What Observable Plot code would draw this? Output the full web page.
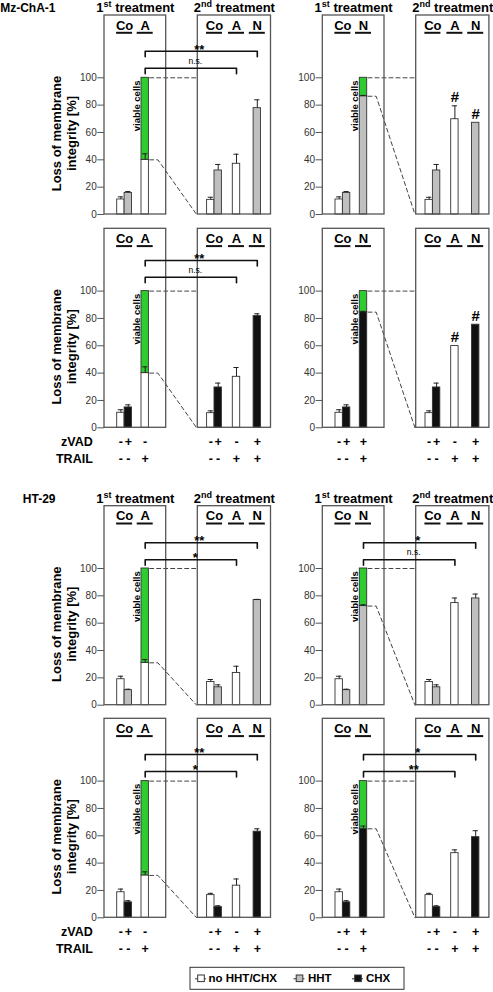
<!DOCTYPE html>
<html>
<head>
<meta charset="utf-8">
<script src="https://cdn.jsdelivr.net/npm/d3@7"></script>
<script src="https://cdn.jsdelivr.net/npm/@observablehq/plot@0.6"></script>
<style>
  body { margin: 0; background: #fff; }
  #chart { position: relative; width: 493px; height: 992px; background: #fff; }
  #chart svg { position: absolute; left: 0; background: transparent; }
</style>
</head>
<body>
<div id="chart"></div>
<script>
// ================= DATA =================
const yTicks = [0, 20, 40, 60, 80, 100];
const cellLines = ["Mz-ChA-1", "", "HT-29", ""];
const rowAgent = ["HHT", "CHX", "HHT", "CHX"];
const treatmentTitles = ["1st treatment", "2nd treatment"];
const firstCatsLeft = ["Co", "A"];
const firstCatsRight = ["Co", "N"];
const secondCats = ["Co", "A", "N"];
const legendLabels = ["no HHT/CHX", "HHT", "CHX"];
const yTitle = "Loss of membrane\nintegrity [%]";
const viableLabel = "viable cells";
const zvadCo = ["-", "+"], trailCo = ["-", "-"];
const zvadA = "-", trailA = "+";
const zvadN = "+", trailN = "+";
const factorLabels = ["zVAD", "TRAIL"];

// Loss of membrane integrity [%]; 1st box: [Co no agent, Co agent, A|N], 2nd box: [Co no agent, Co agent, A, N]
// Mz-ChA-1, HHT
const mzHhtFirstA = [11, 15.8, 40],   mzHhtFirstAErr = [1.9, 1, 4.4];
const mzHhtSecondA = [10.7, 32.2, 37.1, 77.8], mzHhtSecondAErr = [1.9, 4.4, 7, 6.1];
const mzHhtFirstN = [11, 15.8, 86.5], mzHhtFirstNErr = [1.9, 1, 0.6];
const mzHhtSecondN = [10.7, 32.2, 69.7, 67.1], mzHhtSecondNErr = [1.9, 4.4, 9.8, 0];
// Mz-ChA-1, CHX
const mzChxFirstA = [11, 14.9, 40],   mzChxFirstAErr = [2.2, 1.9, 4.6];
const mzChxSecondA = [10.7, 29.5, 37.3, 81.7], mzChxSecondAErr = [1.7, 3.2, 6.8, 1.7];
const mzChxFirstN = [11, 14.9, 84.6], mzChxFirstNErr = [2.2, 1.9, 0.6];
const mzChxSecondN = [10.7, 29.5, 59.8, 75.4], mzChxSecondNErr = [1.7, 3.2, 0, 0];
// HT-29, HHT
const htHhtFirstA = [19, 11, 31],     htHhtFirstAErr = [2.2, 0.7, 2.4];
const htHhtSecondA = [17, 13.1, 23.6, 76.9], htHhtSecondAErr = [1.8, 1.8, 4.9, 0.5];
const htHhtFirstN = [19, 11, 72.5],   htHhtFirstNErr = [2.2, 0.7, 1];
const htHhtSecondN = [17, 13.1, 74.7, 78.1], htHhtSecondNErr = [1.8, 1.8, 3.7, 3.2];
// HT-29, CHX
const htChxFirstA = [18.7, 11.3, 31], htChxFirstAErr = [2.3, 1.2, 2.6];
const htChxSecondA = [16.6, 7.8, 23.5, 63], htChxSecondAErr = [1.3, 1, 4.9, 2.1];
const htChxFirstN = [18.7, 11.3, 65.1], htChxFirstNErr = [2.3, 1.2, 2];
const htChxSecondN = [16.6, 7.8, 47.3, 59], htChxSecondNErr = [1.3, 1, 2.4, 4.7];

// significance
const sigAtoN = ["**", "**", "**", "**"];     // left: 1st A vs 2nd N
const sigAtoA = ["n.s.", "n.s.", "*", "*"];   // left: 1st A vs 2nd A
const sigNtoN = ["", "", "*", "*"];           // right: 1st N vs 2nd N
const sigNtoA = ["", "", "n.s.", "**"];       // right: 1st N vs 2nd A
const hashA = ["#", "#", "", ""];
const hashN = ["#", "#", "", ""];

const rows = [
  {firstA: mzHhtFirstA, firstAErr: mzHhtFirstAErr, secondA: mzHhtSecondA, secondAErr: mzHhtSecondAErr,
   firstN: mzHhtFirstN, firstNErr: mzHhtFirstNErr, secondN: mzHhtSecondN, secondNErr: mzHhtSecondNErr},
  {firstA: mzChxFirstA, firstAErr: mzChxFirstAErr, secondA: mzChxSecondA, secondAErr: mzChxSecondAErr,
   firstN: mzChxFirstN, firstNErr: mzChxFirstNErr, secondN: mzChxSecondN, secondNErr: mzChxSecondNErr},
  {firstA: htHhtFirstA, firstAErr: htHhtFirstAErr, secondA: htHhtSecondA, secondAErr: htHhtSecondAErr,
   firstN: htHhtFirstN, firstNErr: htHhtFirstNErr, secondN: htHhtSecondN, secondNErr: htHhtSecondNErr},
  {firstA: htChxFirstA, firstAErr: htChxFirstAErr, secondA: htChxSecondA, secondAErr: htChxSecondAErr,
   firstN: htChxFirstN, firstNErr: htChxFirstNErr, secondN: htChxSecondN, secondNErr: htChxSecondNErr}
];

// ================= LAYOUT / STYLE =================
const FONT = '"Liberation Sans", Arial, Helvetica, sans-serif';
const W = 493;
const PX = 1.367;                          // px per 1 %
const WHITE = "#ffffff", GREY = "#bfbfbf", BLACK = "#111111", GREEN = "#2ecc2e";
const rowTop = [0, 220, 470, 712];
const rowH = [220, 250, 242, 280];
const rowY0 = [214, 207.3, 234.7, 205.3];
const bracketUpperPx = [163.3, 167.3, 162.4, 163.3];
const bracketLowerPx = [146.3, 150.6, 145.4, 146.3];
const side = [{b1: 104, b2: 197.3}, {b1: 322.3, b2: 415.7}];
const B1W = 61.7, B2W = 73.2, BW = 7.4;
const slot1 = [12.7, 20.1, 37];
const slot2 = [9.3, 16.7, 35, 55.8];
const legendBox = [190, 404];
const legendIconX = [201, 299.5, 358];
const legendTextX = [208, 307.5, 365.5];

function buildRow(r) {
  const y0 = rowY0[r];
  const U = px => px / PX;
  const d = rows[r];
  const agentFill = rowAgent[r] === "HHT" ? GREY : BLACK;
  const bars = [], errs = [], frames = [], ticks = [], cats = [], unders = [], signs = [];
  const brackets = [], brStars = [], brNs = [], conns = [], viable = [], hashes = [], titles = [];

  side.forEach((s, si) => {
    const v1 = si === 0 ? d.firstA : d.firstN, e1 = si === 0 ? d.firstAErr : d.firstNErr;
    const v2 = si === 0 ? d.secondA : d.secondN, e2 = si === 0 ? d.secondAErr : d.secondNErr;
    const cats1 = si === 0 ? firstCatsLeft : firstCatsRight;
    frames.push({x1: s.b1, x2: s.b1 + B1W}, {x1: s.b2, x2: s.b2 + B2W});
    const xs1 = slot1.map(o => s.b1 + o), xs2 = slot2.map(o => s.b2 + o);
    const fill1 = [WHITE, agentFill, si === 0 ? WHITE : agentFill];
    const fill2 = [WHITE, agentFill, WHITE, agentFill];
    xs1.forEach((x, i) => {
      bars.push({x1: x, x2: x + BW, y1: 0, y2: v1[i], fill: fill1[i]});
      if (e1[i] > 0) errs.push({x: x + BW / 2, y1: v1[i], y2: v1[i] + e1[i]});
    });
    const tx = xs1[2], tv = v1[2];
    bars.push({x1: tx, x2: tx + BW, y1: tv, y2: 100, fill: GREEN});
    xs2.forEach((x, i) => {
      bars.push({x1: x, x2: x + BW, y1: 0, y2: v2[i], fill: fill2[i]});
      if (e2[i] > 0) errs.push({x: x + BW / 2, y1: v2[i], y2: v2[i] + e2[i]});
    });
    // y ticks
    yTicks.forEach(t => ticks.push({x1: s.b1 - 6.7, x2: s.b1, lx: s.b1 - 7.8, y: t}));
    // category labels
    const c1 = [s.b1 + slot1[1], xs1[2] + BW / 2];
    const c2 = [s.b2 + slot2[1], xs2[2] + BW / 2, xs2[3] + BW / 2];
    cats1.forEach((c, i) => cats.push({x: c1[i], t: c}));
    secondCats.forEach((c, i) => cats.push({x: c2[i], t: c}));
    // titles
    if (treatmentTitles && (r === 0 || r === 2)) {
      titles.push({x: s.b1 + B1W / 2, t: treatmentTitles[0]}, {x: s.b2 + B2W / 2, t: treatmentTitles[1]});
    }
    // zVAD / TRAIL signs
    if (r === 1 || r === 3) {
      const tz = si === 0 ? zvadA : zvadN, tt = si === 0 ? trailA : trailN;
      [0, 1].forEach(i => {
        signs.push({x: xs1[i] + BW / 2, y: U(-14), t: zvadCo[i]}, {x: xs1[i] + BW / 2, y: U(-31), t: trailCo[i]});
        signs.push({x: xs2[i] + BW / 2, y: U(-14), t: zvadCo[i]}, {x: xs2[i] + BW / 2, y: U(-31), t: trailCo[i]});
      });
      signs.push({x: tx + BW / 2, y: U(-14), t: tz}, {x: tx + BW / 2, y: U(-31), t: tt});
      signs.push({x: xs2[2] + BW / 2, y: U(-14), t: zvadA}, {x: xs2[2] + BW / 2, y: U(-31), t: trailA});
      signs.push({x: xs2[3] + BW / 2, y: U(-14), t: zvadN}, {x: xs2[3] + BW / 2, y: U(-31), t: trailN});
    }
    // connectors (dashed)
    const br = tx + BW;
    conns.push({id: si + "u", x: br + 0.8, y: 100}, {id: si + "u", x: s.b2, y: 100});
    conns.push({id: si + "l", x: br + 0.8, y: tv}, {id: si + "l", x: br + 9, y: tv}, {id: si + "l", x: s.b2 - 1.2, y: 0});
    // viable cells
    viable.push({x: tx - 5, y: 98, t: viableLabel});
    // brackets
    const up = si === 0 ? sigAtoN[r] : sigNtoN[r];
    const lo = si === 0 ? sigAtoA[r] : sigNtoA[r];
    const xStart = tx + BW / 2;
    [[up, xs2[3] + BW / 2, bracketUpperPx[r], "u"], [lo, xs2[2] + BW / 2, bracketLowerPx[r], "l"]].forEach(([lab, xe, bpx, k]) => {
      if (!lab) return;
      const yb = U(bpx), yt = U(bpx - 5.5), id = r + "-" + si + k;
      brackets.push({id, x: xStart, y: yt}, {id, x: xStart, y: yb}, {id, x: xe, y: yb}, {id, x: xe, y: yt});
      const lab0 = {t: lab, anchor: k === "u" ? "start" : "end", x: k === "u" ? s.b2 + 1.5 : s.b2 - 2.5};
      if (lab === "n.s.") brNs.push({...lab0, y: U(bpx + 7.1)});
      else brStars.push({...lab0, y: U(bpx + 1.5)});
    });
    // hashes
    if (si === 1) {
      if (hashA[r]) hashes.push({x: xs2[2] + BW / 2, y: v2[2] + e2[2] + U(8.8), t: hashA[r]});
      if (hashN[r]) hashes.push({x: xs2[3] + BW / 2, y: v2[3] + e2[3] + U(8.8), t: hashN[r]});
    }
  });

  cats.forEach(c => unders.push({x1: c.x - 8, x2: c.x + 8}));

  const marks = [];
  [WHITE, GREY, BLACK, GREEN].forEach(f => {
    marks.push(Plot.rect(bars.filter(b => b.fill === f), {x1: "x1", x2: "x2", y1: "y1", y2: "y2", fill: f, stroke: "#333", strokeWidth: 0.9}));
  });
  marks.push(
    Plot.ruleX(errs, {x: "x", y1: "y1", y2: "y2", stroke: "#222", strokeWidth: 1}),
    Plot.ruleY(errs, {y: "y2", x1: d => d.x - 2.6, x2: d => d.x + 2.6, stroke: "#222", strokeWidth: 1}),
    Plot.line(conns, {x: "x", y: "y", z: "id", stroke: "#444", strokeWidth: 1, strokeDasharray: "4,3"}),
    Plot.rect(frames, {x1: "x1", x2: "x2", y1: 0, y2: U(199), fill: "none", stroke: "#555", strokeWidth: 1.3}),
    Plot.ruleY(ticks, {y: "y", x1: "x1", x2: "x2", stroke: "#555", strokeWidth: 1}),
    Plot.text(ticks, {x: "lx", y: "y", text: d => String(d.y), textAnchor: "end", fontSize: 10, fill: "#333"}),
    Plot.text(cats, {x: "x", y: U(189), text: "t", fontSize: 13, fontWeight: "bold"}),
    Plot.ruleY(unders, {y: U(181.7), x1: "x1", x2: "x2", stroke: "#111", strokeWidth: 2}),
    Plot.line(brackets, {x: "x", y: "y", z: "id", stroke: "#111", strokeWidth: 1.6}),
    Plot.text(brStars, {x: "x", y: "y", text: "t", textAnchor: "anchor", fontSize: 13, fontWeight: "bold"}),
    Plot.text(brNs, {x: "x", y: "y", text: "t", textAnchor: "anchor", fontSize: 8.5}),
    Plot.text(viable, {x: "x", y: "y", text: "t", rotate: -90, textAnchor: "end", fontSize: 9.5, fontWeight: "bold"}),
    Plot.text(hashes, {x: "x", y: "y", text: "t", fontSize: 15, fontWeight: "bold"}),
    Plot.text([yTitle], {x: 63.3, y: U(81), text: d => d, rotate: -90, lineHeight: 1.15, fontSize: 13, fontWeight: "bold"})
  );
  if (titles.length) {
    marks.push(Plot.text(titles, {x: "x", y: U(206.5), text: "t", fontSize: 13, fontWeight: "bold"}));
  }
  if (cellLines[r]) {
    marks.push(Plot.text([cellLines[r]], {x: 55, y: U(206.5), text: d => d, textAnchor: "end", fontSize: 12, fontWeight: "bold"}));
  }
  if (signs.length) {
    marks.push(Plot.text(signs, {x: "x", y: "y", text: "t", fontSize: 12.5, fontWeight: "bold"}));
    marks.push(Plot.text(factorLabels, {x: 92.3, y: (d, i) => U(i === 0 ? -14 : -31), text: d => d, textAnchor: "end", fontSize: 12.5, fontWeight: "bold"}));
  }
  if (r === 3) {
    const fills = [WHITE, GREY, BLACK];
    const items = legendLabels.map((t, i) => ({t, ix: legendIconX[i], tx: legendTextX[i], fill: fills[i]}));
    marks.push(
      Plot.rect([0], {x1: legendBox[0], x2: legendBox[1], y1: U(-50), y2: U(-72), fill: "none", stroke: "#333", strokeWidth: 1}),
      Plot.ruleY(items, {y: U(-61), x1: d => d.ix - 6, x2: d => d.ix + 5, stroke: "#333", strokeWidth: 1})
    );
    fills.forEach(f => marks.push(
      Plot.rect(items.filter(d => d.fill === f), {x1: d => d.ix - 3.3, x2: d => d.ix + 3.3, y1: U(-61 + 3.3), y2: U(-61 - 3.3), fill: f, stroke: "#333", strokeWidth: 1})
    ));
    marks.push(Plot.text(items, {x: "tx", y: U(-61), text: "t", textAnchor: "start", fontSize: 11.5, fontWeight: "bold"}));
  }

  const svg = Plot.plot({
    width: W, height: rowH[r],
    marginTop: 0, marginBottom: 0, marginLeft: 0, marginRight: 0,
    x: {type: "linear", domain: [0, W], range: [0, W], axis: null},
    y: {type: "linear", domain: [0, 100], range: [y0, y0 - 100 * PX], axis: null},
    style: {fontFamily: FONT, background: "transparent", overflow: "visible"},
    marks
  });
  // superscripts in "1st treatment" / "2nd treatment"
  d3.select(svg).selectAll("text").each(function () {
    const m = /^(\d)(st|nd) (treatment)$/.exec(this.textContent);
    if (!m) return;
    const t = d3.select(this);
    t.text(null);
    t.append("tspan").text(m[1]);
    t.append("tspan").attr("dy", -5).attr("font-size", "9px").text(m[2]);
    t.append("tspan").attr("dy", 5).text("\u00a0" + m[3]);
  });
  svg.style.top = rowTop[r] + "px";
  return svg;
}

const chart = document.getElementById("chart");
rows.forEach((_, r) => chart.appendChild(buildRow(r)));
</script>
</body>
</html>
